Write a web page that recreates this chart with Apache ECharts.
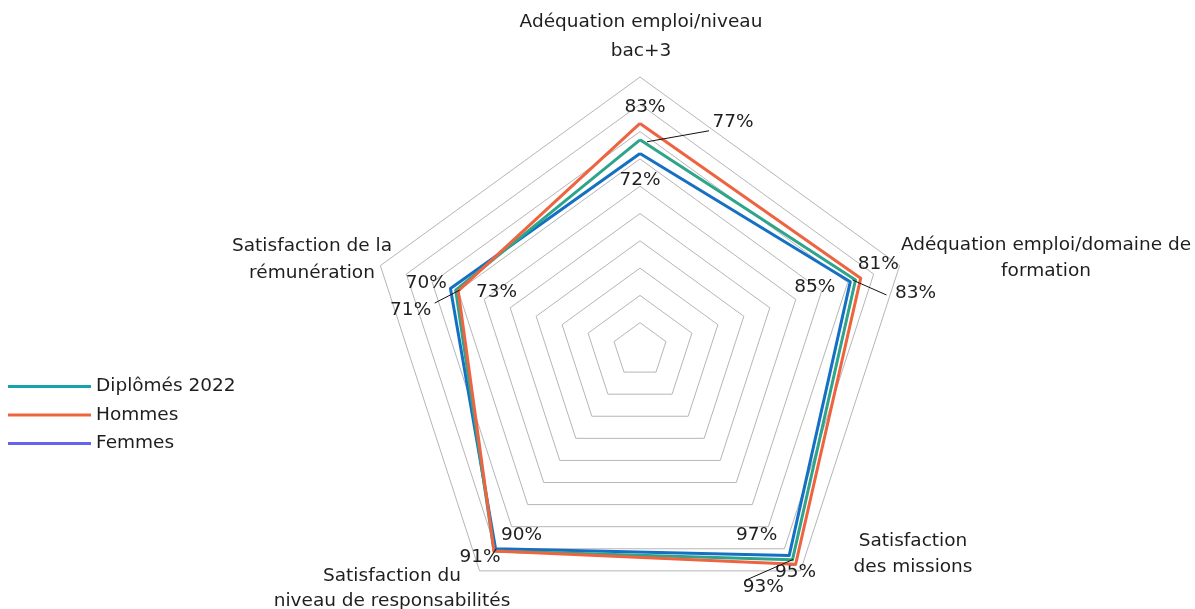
<!DOCTYPE html>
<html><head><meta charset="utf-8">
<script src="https://cdn.jsdelivr.net/npm/echarts@6/dist/echarts.min.js"></script>
<style>html,body{margin:0;padding:0;background:#fff}#c{width:1195px;height:609px}</style>
</head><body><div id="c"></div>
<script>
// Indicators in ECharts order (counter-clockwise from the top)
const indicators = [
  'Adéquation emploi/niveau\nbac+3',
  'Satisfaction de la\nrémunération',
  'Satisfaction du\nniveau de responsabilités',
  'Satisfaction\ndes missions',
  'Adéquation emploi/domaine de\nformation'
];
const seriesNames = ['Diplômés 2022', 'Hommes', 'Femmes'];
const diplomes = [77, 71, 91, 95, 83];
const hommes   = [83, 70, 91, 97, 85];
const femmes   = [72, 73, 90, 93, 81];

const FONT = "'DejaVu Sans', Verdana, sans-serif";
const FS = 18.5;
const TXT = '#1e1e1e';
const values = { 'Diplômés 2022': diplomes, 'Hommes': hommes, 'Femmes': femmes };
const lineColor = { 'Diplômés 2022': '#2EA58A', 'Hommes': '#EE6440', 'Femmes': '#1570C4' };
const legendColor = { 'Diplômés 2022': '#17A3AB', 'Hommes': '#EE6440', 'Femmes': '#6464EE' };
// label placement relative to its vertex (style only)
const labelPos = {
  'Diplômés 2022': [[93, -18], [-45, 20], null, [3, 12], [60, 13]],
  'Hommes': [[5, -16], [-32, -8], [-14, 6], [-39, -29], [-46, 9]],
  'Femmes': [[0, 27], [46, 4], [26, -14], [-26, 32], [28, -17]]
};
const leaders = {
  'Diplômés 2022': [[7, 2, 69, -9], [-21, 13, 4, 0], null, null, [-3, 0, 31, 15]],
  'Hommes': [null, null, null, null, null],
  'Femmes': [null, null, null, [-44, 25, 4, 4], null]
};
// placement of the indicator names (style only): [x, y, lineHeight]
const namePlace = [[641, 37, 29], [312, 260, 27], [392, 589, 25], [913, 554, 26], [1046, 258, 26]];
const drawOrder = ['Femmes', 'Diplômés 2022', 'Hommes'];
const vertices = {};

const chart = echarts.init(document.getElementById('c'), null, { renderer: 'canvas' });

function makeSeries(name, z) {
  return {
    type: 'radar', name: name, z: z,
    data: [{ value: values[name], name: name }],
    symbol: 'circle', symbolSize: 1,
    itemStyle: { color: lineColor[name] },
    lineStyle: { color: lineColor[name], width: 3 },
    emphasis: { disabled: true },
    label: {
      show: true, fontSize: FS, fontFamily: FONT, color: TXT,
      formatter: function (p) {
        const v = Array.isArray(p.value) ? NaN : p.value;
        const i = values[name].indexOf(+v);
        if (i < 0 || !labelPos[name][i]) return '';
        return v + '%';
      }
    },
    labelLayout: function (p) {
      if (!p.text) return {};
      const i = values[name].indexOf(parseFloat(p.text));
      const pos = labelPos[name][i];
      if (!pos) return {};
      const cx = p.rect.x + p.rect.width / 2, cy = p.rect.y + p.rect.height / 2;
      (vertices[name] = vertices[name] || [])[i] = [cx, cy];
      return { x: cx + pos[0], y: cy + pos[1], align: 'center', verticalAlign: 'middle' };
    }
  };
}

const nameTexts = indicators.map((t, i) => ({
  type: 'text', id: 'name' + i, silent: true, z: 50,
  x: namePlace[i][0], y: namePlace[i][1],
  style: { text: t, fill: TXT, font: FS + 'px ' + FONT, lineHeight: namePlace[i][2],
           textAlign: 'center', textVerticalAlign: 'middle' }
}));

const option = {
  backgroundColor: '#ffffff',
  animation: false,
  legend: {
    orient: 'vertical', left: 3, top: 372, itemWidth: 83, itemHeight: 3, itemGap: 9.5,
    icon: 'rect', selectedMode: false,
    textStyle: { fontSize: FS, fontFamily: FONT, color: TXT },
    data: seriesNames.map(n => ({ name: n, itemStyle: { color: legendColor[n] } }))
  },
  radar: {
    center: [640, 350], radius: 273, startAngle: 90, splitNumber: 10, shape: 'polygon',
    indicator: indicators.map(n => ({ name: n, min: 0, max: 100 })),
    axisLine: { show: false }, axisTick: { show: false }, axisLabel: { show: false },
    splitArea: { show: false },
    splitLine: { lineStyle: { color: '#b6b6b6', width: 1 } },
    axisName: { show: false }
  },
  graphic: nameTexts,
  series: drawOrder.map((n, k) => makeSeries(n, 2 + k))
};
chart.setOption(option);

function vertexOf(n, i) {
  try {
    const cs = chart.getModel().getComponent('radar', 0).coordinateSystem;
    const p = cs.dataToPoint(values[n][i], i);
    if (p && isFinite(p[0]) && isFinite(p[1])) return p;
  } catch (e) {}
  return vertices[n] && vertices[n][i];
}
function addLeaders() {
  const els = [];
  seriesNames.forEach(n => {
    leaders[n].forEach((l, i) => {
      if (!l) return;
      const v = vertexOf(n, i);
      if (!v) return;
      els.push({ type: 'line', id: 'lead_' + n + i, z: 100, silent: true,
        shape: { x1: v[0] + l[0], y1: v[1] + l[1], x2: v[0] + l[2], y2: v[1] + l[3] },
        style: { stroke: '#111', lineWidth: 1 } });
    });
  });
  chart.setOption({ graphic: els });
}
addLeaders();
</script></body></html>
